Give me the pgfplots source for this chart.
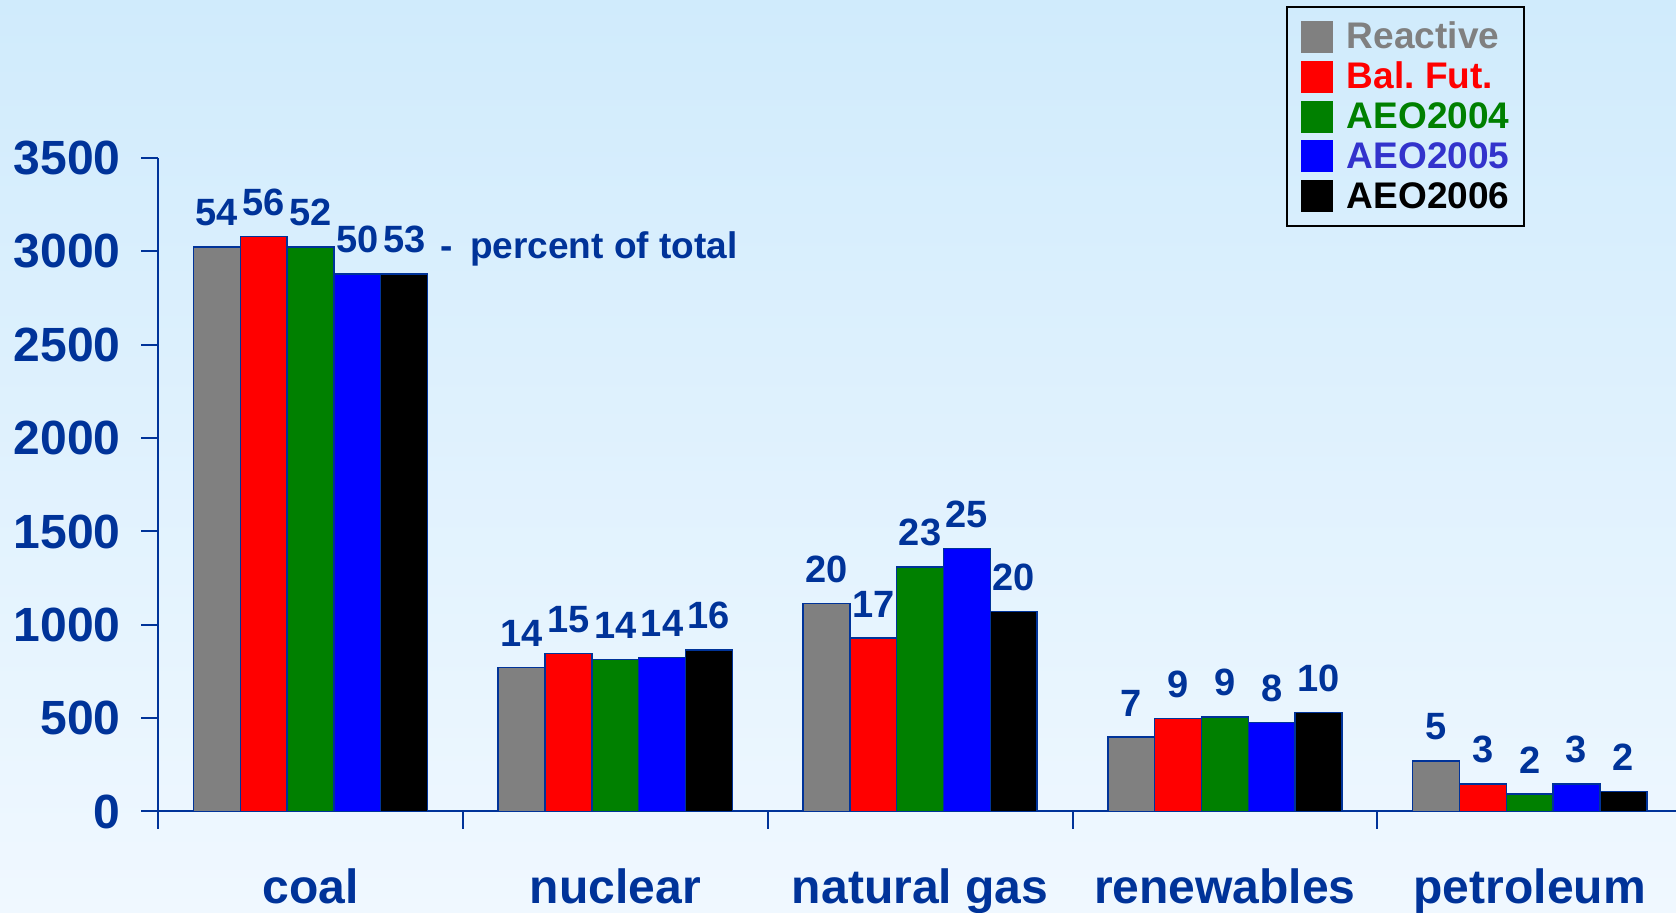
\documentclass[border=0pt]{standalone}
\usepackage{pgfplots}
\pgfplotsset{compat=1.18}
\usepackage{fontspec}
\setmainfont{Liberation Sans}
\definecolor{dblue}{RGB}{0,51,153}
\definecolor{bgtop}{RGB}{208,235,252}
\definecolor{bgbot}{RGB}{240,248,255}
\definecolor{legblue}{RGB}{51,51,204}
\definecolor{mygray}{RGB}{128,128,128}
\definecolor{mygreen}{RGB}{0,128,0}
\begin{document}
\begin{tikzpicture}
\shade[use as bounding box, top color=bgtop, bottom color=bgbot] (-79pt,-50.5pt) rectangle (758.5pt,405.5pt);
\begin{axis}[
  at={(0,0)}, anchor=south west,
  scale only axis, width=758.5pt, height=326.5pt,
  xmin=-0.5, xmax=4.48, ymin=0, ymax=3500,
  enlargelimits=false, clip=false,
  axis x line=bottom, axis y line=left,
  axis line style={-, draw=dblue, line width=1pt},
  tick style={draw=dblue, line width=1pt},
  tick align=outside, major tick length=8.5pt,
  ytick={0,500,...,3500},
  xtick={-0.5,0.5,1.5,2.5,3.5}, xticklabels={},
  extra x ticks={0,1,2,3,4},
  extra x tick labels={coal,nuclear,natural gas,renewables,petroleum},
  extra x tick style={tick style={draw=none}, major tick length=0pt,
     tick label style={anchor=base, yshift=-46pt, inner sep=0pt}},
  /pgf/number format/assume math mode=true,
  /pgf/number format/1000 sep={},
  ticklabel style={text=dblue, font=\bfseries\fontsize{24pt}{28pt}\selectfont},
  yticklabel style={anchor=east, inner sep=0pt, xshift=-10pt},
  xticklabel style={font=\bfseries\fontsize{24pt}{28pt}\selectfont},
  ybar=0pt, bar width=23.4pt,
  point meta=explicit symbolic,
  nodes near coords={\pgfplotspointmeta},
  every node near coord/.append style={text=dblue, font=\bfseries\fontsize{19pt}{21pt}\selectfont, anchor=south, inner sep=0pt, yshift=10pt},
  every axis plot/.append style={draw=dblue, line width=0.75pt},
  legend image code/.code={\fill[#1, draw=none] (0pt,-8pt) rectangle (16pt,8pt);},
  legend cell align=left,
  legend style={at={(0.743,1.233)}, anchor=north west, draw=black, line width=1pt, fill=none,
     inner xsep=7pt, inner ysep=7pt, row sep=3.9pt, column sep=7pt,
     font=\bfseries\fontsize{18.5pt}{20pt}\selectfont,
     nodes={inner sep=0pt, text height=14pt, text depth=2pt}},
]
\addplot[fill=mygray] coordinates {(0,3025) [54] (1,770) [14] (2,1115) [20] (3,400) [7] (4,270) [5]};
\addlegendentry{\textcolor{mygray}{Reactive}}
\addplot[fill=red] coordinates {(0,3080) [56] (1,847) [15] (2,929) [17] (3,497) [9] (4,148) [3]};
\addlegendentry{\textcolor{red}{Bal.~Fut.}}
\addplot[fill=mygreen] coordinates {(0,3025) [52] (1,813) [14] (2,1311) [23] (3,507) [9] (4,93) [2]};
\addlegendentry{\textcolor{mygreen}{AEO2004}}
\addplot[fill=blue] coordinates {(0,2880) [50] (1,825) [14] (2,1408) [25] (3,478) [8] (4,148) [3]};
\addlegendentry{\textcolor{legblue}{AEO2005}}
\addplot[fill=black] coordinates {(0,2880) [53] (1,866) [16] (2,1072) [20] (3,530) [10] (4,107) [2]};
\addlegendentry{\textcolor{black}{AEO2006}}
\node[anchor=base west, inner sep=0pt, text=dblue, font=\bfseries\fontsize{18.5pt}{20pt}\selectfont] at (axis cs:0.4258,2963) {-\hspace{8.5pt}percent of total};
\end{axis}
\end{tikzpicture}
\end{document}
